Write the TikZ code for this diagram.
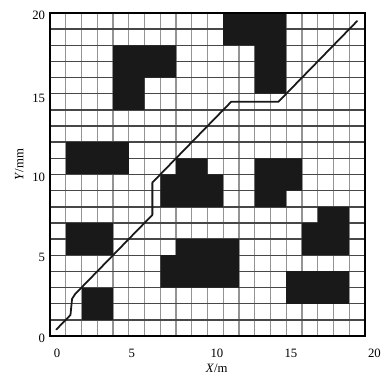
\documentclass[tikz,border=0pt]{standalone}
\usepackage{fontspec}
\setmainfont{Liberation Serif}
\begin{document}
\begin{tikzpicture}[x=0.5cm,y=0.5127cm,
  hgrid/.style={black!72,line width=1.3pt},
  vgrid/.style={black!42,line width=1pt},
  obstacle/.style={fill=black!90,draw=none},
  route/.style={black!90,line width=1.6pt,line join=round,line cap=round},
  frame/.style={black,line width=1.6pt},
  ticklabel/.style={font=\fontsize{11.5}{13}\selectfont,inner sep=0pt},
  axistitle/.style={font=\fontsize{11.5}{13}\selectfont,inner sep=0pt}]
\useasboundingbox (-3.175,-2.477) rectangle (21.08,20.805);
\foreach \i in {1,...,19} \draw[vgrid] (\i,0) -- (\i,20);
\foreach \j in {1,...,19} \draw[hgrid] (0,\j) -- (20,\j);
% obstacles
\fill[obstacle] (4,14) -- (4,18) -- (8,18) -- (8,16) -- (6,16) -- (6,14) -- cycle;
\fill[obstacle] (1,10) rectangle (5,12);
\fill[obstacle] (11,20) -- (15,20) -- (15,15) -- (13,15) -- (13,18) -- (11,18) -- cycle;
\fill[obstacle] (7,8) -- (11,8) -- (11,10) -- (10,10) -- (10,11) -- (8,11) -- (8,10) -- (7,10) -- cycle;
\fill[obstacle] (13,8) -- (15,8) -- (15,9) -- (16,9) -- (16,11) -- (13,11) -- cycle;
\fill[obstacle] (16,5) -- (19,5) -- (19,8) -- (17,8) -- (17,7) -- (16,7) -- cycle;
\fill[obstacle] (15,2) rectangle (19,4);
\fill[obstacle] (7,3) -- (12,3) -- (12,6) -- (8,6) -- (8,5) -- (7,5) -- cycle;
\fill[obstacle] (1,5) rectangle (4,7);
\fill[obstacle] (2,1) rectangle (4,3);
% frame
\draw[frame] (0,0) rectangle (20,20);
% path
\draw[route] (0.4,0.4) -- (1.3,1.3) -- (1.4,2.3) -- (1.6,2.6) -- (6.5,7.5) -- (6.5,9.5) -- (7,10) -- (11.5,14.5) -- (14.5,14.5) -- (19.5,19.5);
% tick labels
\node[ticklabel] (x0) at (0.44,-1.05) {0};
\node[ticklabel] (x5) at (5.19,-1.05) {5};
\node[ticklabel] (x10) at (10.6,-1.05) {10};
\node[ticklabel] (x15) at (15.3,-1.05) {15};
\node[ticklabel] (x20) at (20.6,-1.05) {20};
\node[ticklabel,anchor=east] (y0) at (-0.3,-0.12) {0};
\node[ticklabel,anchor=east] (y5) at (-0.3,4.89) {5};
\node[ticklabel,anchor=east] (y10) at (-0.3,9.85) {10};
\node[ticklabel,anchor=east] (y15) at (-0.3,14.74) {15};
\node[ticklabel,anchor=east] (y20) at (-0.3,19.88) {20};
\node[axistitle] (xt) at (10.58,-2.02) {\textit{X}/m};
\node[axistitle,rotate=90] (yt) at (-1.95,10.6) {\textit{Y}/mm};
\end{tikzpicture}
\end{document}
